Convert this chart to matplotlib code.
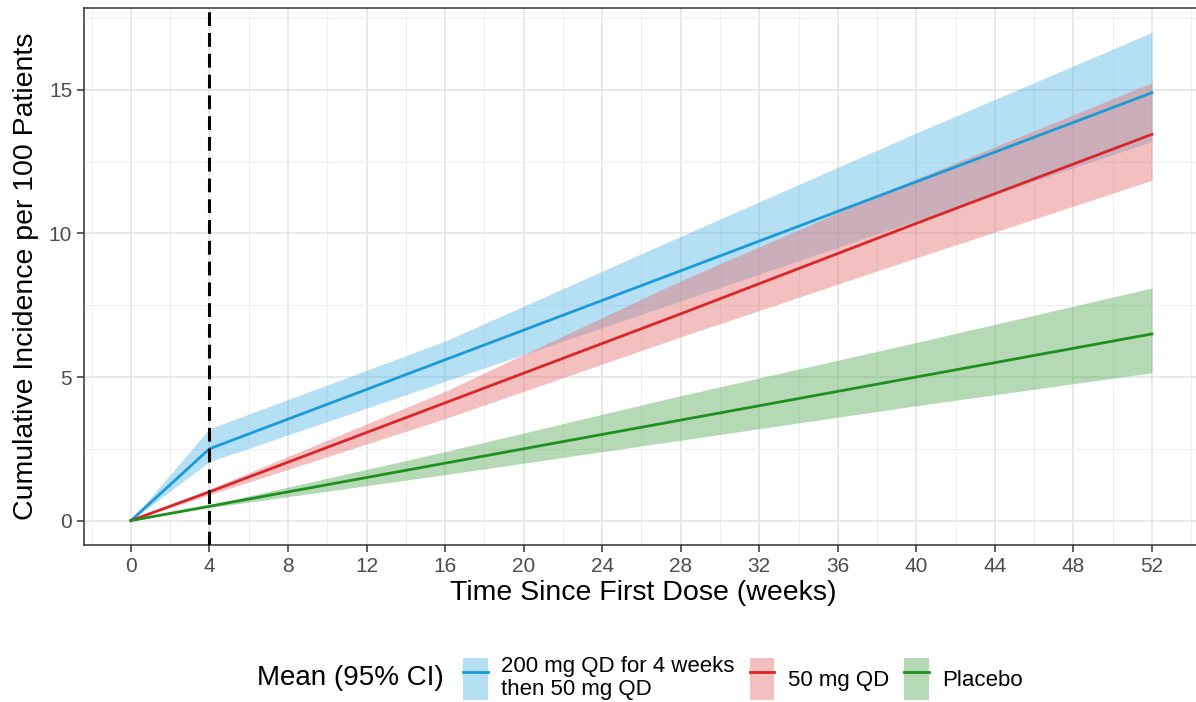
import matplotlib
matplotlib.use("Agg")
import matplotlib.pyplot as plt
from matplotlib.patches import Patch
from matplotlib.lines import Line2D

plt.rcParams['font.family'] = ['Liberation Sans', 'DejaVu Sans']

weeks = [0, 4, 16, 28, 40, 52]
series_names = ["200 mg QD for 4 weeks\nthen 50 mg QD", "50 mg QD", "Placebo"]
high_mean = [0.0, 2.5, 5.6, 8.7, 11.8, 14.9]
high_lo = [0.0, 2.05, 4.85, 7.65, 10.45, 13.2]
high_hi = [0.0, 3.2, 6.25, 9.9, 13.5, 17.0]
mid_mean = [0.0, 1.0, 4.1, 7.2, 10.35, 13.45]
mid_lo = [0.0, 0.9, 3.55, 6.4, 9.15, 11.85]
mid_hi = [0.0, 1.1, 4.5, 8.35, 11.9, 15.25]
pbo_mean = [0.0, 0.5, 2.0, 3.5, 5.0, 6.5]
pbo_lo = [0.0, 0.45, 1.6, 2.8, 4.0, 5.15]
pbo_hi = [0.0, 0.55, 2.4, 4.35, 6.2, 8.1]
xticks = list(range(0, 53, 4))
yticks = [0, 5, 10, 15]

line_colors = ["#1a9bd7", "#d8262a", "#1f8f1f"]
fill_colors = ["#5bb8e6", "#e57373", "#5aab5a"]
fill_alpha = 0.45

W, H = 1196, 702
fig = plt.figure(figsize=(W / 100, H / 100), dpi=100)
left_px, right_px, top_px, bottom_px = 84, 1203, 8, 545
ax = fig.add_axes([left_px / W, 1 - bottom_px / H, (right_px - left_px) / W, (bottom_px - top_px) / H])

data = [(high_mean, high_lo, high_hi), (mid_mean, mid_lo, mid_hi), (pbo_mean, pbo_lo, pbo_hi)]
for (m, lo, hi), fc in zip(data, fill_colors):
    ax.fill_between(weeks, lo, hi, color=fc, alpha=fill_alpha, linewidth=0, zorder=2)
for (m, lo, hi), lc in zip(data, line_colors):
    ax.plot(weeks, m, color=lc, linewidth=2, zorder=3)

ax.axvline(4, color="black", linestyle=(0, (4.5, 2.3)), linewidth=2.2, zorder=4)

ax.set_xlim(-2.39, 54.6)
ax.set_ylim(-0.85, 17.85)
ax.set_xticks(xticks)
ax.set_yticks(yticks)
ax.set_xticks([x + 2 for x in xticks[:-1]] + [-2, 54], minor=True)
ax.set_yticks([2.5, 7.5, 12.5, 17.5], minor=True)
ax.grid(True, which="major", color="#e3e3e3", linewidth=1.1, zorder=0)
ax.grid(True, which="minor", color="#efefef", linewidth=0.8, zorder=0)
ax.set_axisbelow(True)
ax.tick_params(which="major", length=5, width=1.1, color="#333333", labelcolor="#4d4d4d", labelsize=15)
ax.tick_params(which="minor", length=0)
for s in ax.spines.values():
    s.set_color("#333333")
    s.set_linewidth(1.1)

ax.set_xlabel("Time Since First Dose (weeks)", fontsize=20.5, labelpad=3)
ax.set_ylabel("Cumulative Incidence per 100 Patients", fontsize=20.5, labelpad=7)

handles = []
for lc, fc in zip(line_colors, fill_colors):
    handles.append((Patch(facecolor=fc, alpha=fill_alpha, edgecolor="none"),
                    Line2D([0], [0], color=lc, linewidth=2)))
leg = fig.legend(handles, series_names, loc="center left", bbox_to_anchor=(452 / W, 1 - 678 / H), ncol=3,
                 frameon=False, fontsize=16, handlelength=1.1, handleheight=2.5, borderpad=0,
                 handletextpad=0.6, columnspacing=0.7, labelspacing=0.2)
for t in leg.get_texts():
    t.set_linespacing(1.12)
fig.text(257 / W, 1 - 678 / H, "Mean (95% CI)", fontsize=20, ha="left", va="center")

fig.savefig("out.png", dpi=100)
